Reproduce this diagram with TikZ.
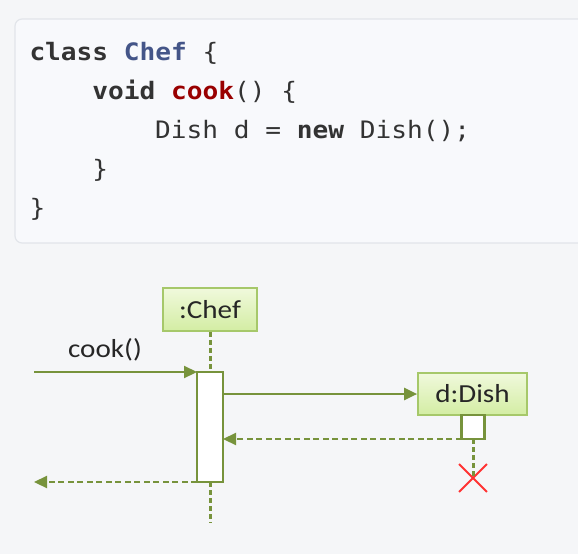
\documentclass[tikz,border=0pt]{standalone}
\usepackage{fontspec}
\setmonofont[FakeStretch=1.09]{DejaVu Sans Mono}
\newfontfamily\diagfont[FakeStretch=1.12]{Carlito}
\usetikzlibrary{arrows.meta,shapes.misc}
\definecolor{bg}{HTML}{F5F6F8}
\definecolor{codebg}{HTML}{F8F9FC}
\definecolor{codeborder}{HTML}{E2E5EA}
\definecolor{codegray}{HTML}{333333}
\definecolor{chefblue}{HTML}{445588}
\definecolor{cookred}{HTML}{990000}
\definecolor{umlgreen}{HTML}{77933C}
\definecolor{objborder}{HTML}{A6C86A}
\definecolor{objtop}{HTML}{F0F9DC}
\definecolor{objbot}{HTML}{D3EDA3}
\definecolor{xred}{HTML}{FF3333}
\begin{document}
\begin{tikzpicture}[x=1pt,y=-1pt,
  codeline/.style={anchor=base west,inner sep=0pt,outer sep=0pt,text=codegray,
    font=\ttfamily\fontsize{24}{28}\selectfont},
  obj/.style={draw=objborder,line width=1.7pt,top color=objtop,bottom color=objbot,
    inner sep=0pt,font=\diagfont\fontsize{26}{30}\selectfont,text=black!85},
  act/.style={draw=umlgreen,line width=2.8pt,fill=white,inner sep=0pt,outer sep=0pt},
  lifeline/.style={draw=umlgreen,line width=3pt,dash pattern=on 5pt off 3pt},
  msg/.style={draw=umlgreen,line width=2.2pt,-{Triangle[length=13pt,width=12pt]}},
  ret/.style={draw=umlgreen,line width=2.2pt,dash pattern=on 6pt off 3.5pt,-{Triangle[length=13pt,width=12pt]}},
  lbl/.style={inner sep=0pt,font=\diagfont\fontsize{26}{30}\selectfont,text=black!85},
  xmark/.style={draw=xred,line width=1.8pt,cross out,minimum size=26pt,inner sep=0pt}
]
\useasboundingbox (0,0) rectangle (578,554);
\fill[bg] (0,0) rectangle (578,554);
\filldraw[fill=codebg,draw=codeborder,line width=1.2pt,rounded corners=7pt] (15,19) rectangle (600,243);

% code
\node[codeline] (l1) at (29.5,60) {\textbf{class} \textcolor{chefblue}{\textbf{Chef}} \{};
\node[codeline] (l2) at (92.3,99) {\textbf{void} \textcolor{cookred}{\textbf{cook}}() \{};
\node[codeline] (l3) at (155.1,138) {Dish d = \textbf{new} Dish();};
\node[codeline] (l4) at (92.3,177) {\}};
\node[codeline] (l5) at (29.5,216) {\}};

% objects
\node[obj,minimum width=94pt,minimum height=43pt] (chef) at (210,309.5) {:Chef};
\node[obj,minimum width=109pt,minimum height=42pt] (dish) at (472.5,394) {d:Dish};

% activations
\node[act,minimum width=26pt,minimum height=110pt] (chefact) at (210,427) {};
\node[act,minimum width=23pt,minimum height=24pt,anchor=north] (dishact) at (473,415) {};

% lifelines
\coordinate (chefend) at (210,523);
\node[xmark] (dishx) at (473,478) {};
\draw[lifeline] (chef.south) -- (chefact.north);
\draw[lifeline] (chefact.south) -- (chefend);
\draw[lifeline] (dishact.south) -- (dishx.center);

% messages
\coordinate (cookstart) at (34,372);
\coordinate (retend) at (34,482);
\node[lbl] (cooklbl) at (105,350) {cook()};
\draw[msg] (cookstart) -- (chefact.west |- cookstart);
\draw[msg] (chefact.east |- dish.west) -- (dish.west);
\draw[ret] (dishact.south west) -- (chefact.east |- dishact.south);
\draw[ret] (chefact.west |- retend) -- (retend);
\end{tikzpicture}
\end{document}
